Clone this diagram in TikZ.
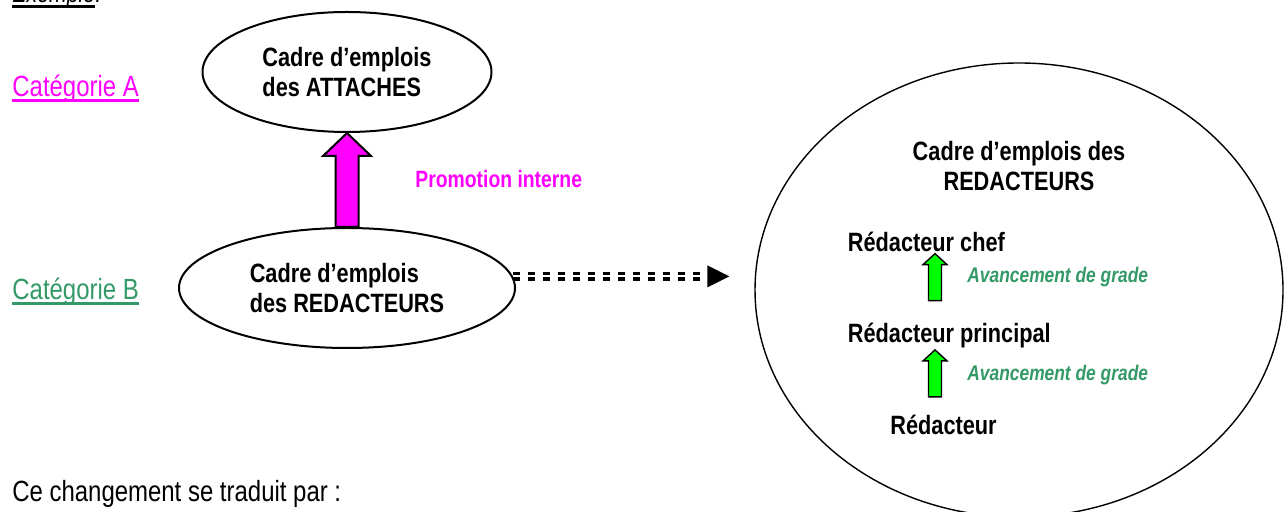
\documentclass[tikz,border=0pt]{standalone}
\usepackage{fontspec}
\setmainfont{Liberation Sans}[FakeStretch=0.82]
\usetikzlibrary{shapes.geometric,calc}
\definecolor{rose}{HTML}{FF00FF}
\definecolor{vertcat}{HTML}{339966}
\definecolor{vertfleche}{HTML}{00FF00}
\newcommand{\souligne}[1]{\setbox0\hbox{#1}\rlap{\vrule width\wd0 height -1.2pt depth 2.3pt}\box0}

\begin{document}
\begin{tikzpicture}[x=0.5pt, y=-0.5pt,
    cadre/.style={draw, ellipse, line width=1pt, inner sep=0pt, align=left,
      font=\bfseries\fontsize{13.25}{15}\selectfont},
    texte/.style={inner sep=0pt, anchor=base west},
    grade/.style={texte, font=\bfseries\fontsize{13.25}{15}\selectfont},
    avance/.style={texte, text=vertcat, font=\bfseries\itshape\fontsize{10.6}{12}\selectfont},
    promo/.style={draw, fill=rose, line width=1pt},
    monte/.style={draw, fill=vertfleche, line width=0.7pt},
    pointille/.style={draw, double, line width=1.6pt, double distance=1.1pt,
      dash pattern=on 3.7pt off 3.8pt}]
	\path[use as bounding box, clip] (0,0) rectangle (1288,512);

	% colonne de gauche
	\node[texte, font=\itshape\fontsize{13}{15}\selectfont] (exemple) at (12,3) {\souligne{Exemple} :};
	\node[texte, text=rose, font=\fontsize{14.6}{17}\selectfont] (catA) at (12,97) {\souligne{Catégorie A}};
	\node[texte, text=vertcat, font=\fontsize{14.6}{17}\selectfont] (catB) at (12,300) {\souligne{Catégorie B}};
	\node[texte, font=\fontsize{14.6}{17}\selectfont] (phrase) at (12,501) {Ce changement se traduit par :};

	% les deux cadres
	\node[cadre, minimum width=144.5pt, minimum height=60pt] (attaches) at (347,72) {Cadre d’emplois\\des ATTACHES};
	\node[cadre, minimum width=168pt, minimum height=60pt] (redact) at (347,288) {Cadre d’emplois\\des REDACTEURS};
	\node[texte, text=rose, font=\bfseries\fontsize{11.8}{14}\selectfont] (promotion) at (415,188) {Promotion interne};

	\draw[promo] (attaches.south) -- ++(24,23) -- ++(-12.5,0) |- ($(redact.north)+(-11.5,0)$)
		|- ($(attaches.south)+(-11.5,23)$) -- ++(-12.5,0) -- cycle;

	% le cadre detaille
	\node[draw, ellipse, line width=0.7pt, minimum width=264pt, minimum height=227pt] (grades) at (1019,290) {};
	\node[align=center, inner sep=0pt, font=\bfseries\fontsize{13.25}{15}\selectfont] (titre) at (1019,166) {Cadre d’emplois des\\REDACTEURS};
	\node[grade] (chef) at (847.5,252) {Rédacteur chef};
	\node[grade] (principal) at (847.5,343) {Rédacteur principal};
	\node[grade] (redacteur) at (890,435) {Rédacteur};
	\node[avance] (av1) at (967,283) {Avancement de grade};
	\node[avance] (av2) at (967,380) {Avancement de grade};

	\foreach \n in {chef, principal}
		\draw[monte] ($(\n.south west)+(87.5,1)$) -- ++(12,11) -- ++(-5.5,0) -- ++(0,36)
			-- ++(-13,0) -- ++(0,-36) -- ++(-5.5,0) -- cycle;

	% fleche pointillee
	\coordinate (pointe) at ($(redact.4 -| grades.west)+(-25,0)$);
	\draw[pointille] (redact.4) -- ($(pointe)+(-27,0)$);
	\fill (pointe) -- ++(-22,-11) -- ++(0,22) -- cycle;
\end{tikzpicture}
\end{document}
